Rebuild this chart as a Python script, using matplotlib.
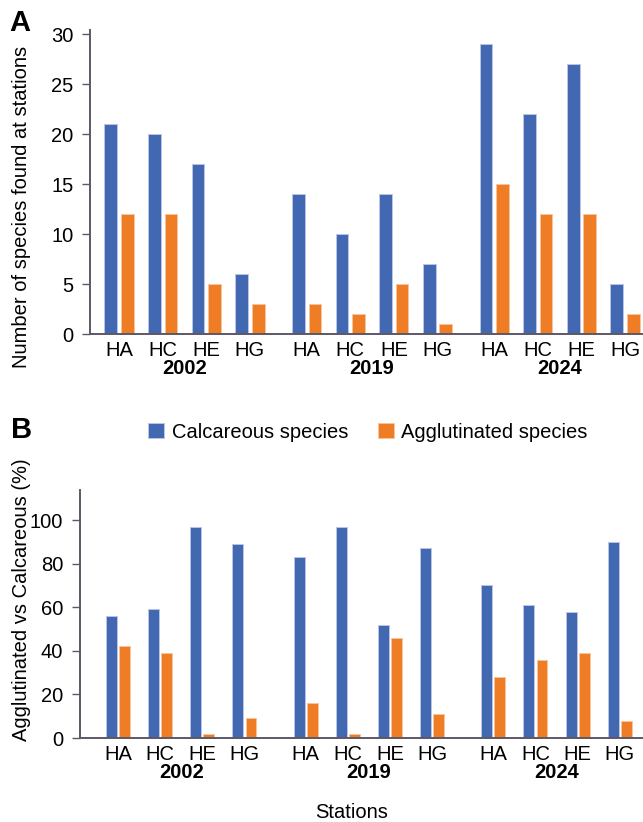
import numpy as np
import matplotlib
matplotlib.use('Agg')
import matplotlib.pyplot as plt
from matplotlib.transforms import blended_transform_factory

plt.rcParams['font.family'] = ['Liberation Sans', 'DejaVu Sans']
plt.rcParams['font.size'] = 14.5

stations = ['HA', 'HC', 'HE', 'HG']
years = ['2002', '2019', '2024']

# Panel A: number of species per station
calc_count = [21, 20, 17, 6, 14, 10, 14, 7, 29, 22, 27, 5]
aggl_count = [12, 12, 5, 3, 3, 2, 5, 1, 15, 12, 12, 2]

# Panel B: percentages
calc_pct = [56, 59, 97, 89, 83, 97, 52, 87, 70, 61, 58, 90]
aggl_pct = [42, 39, 2, 9, 16, 2, 46, 11, 28, 36, 39, 8]

blue = '#4268b2'
orange = '#ee7d26'
spine_col = '#5c5866'

W, H = 643, 822
fig = plt.figure(figsize=(W / 100, H / 100), dpi=100)


def px_rect(left, top, right, bottom):
    return [left / W, 1 - bottom / H, (right - left) / W, (bottom - top) / H]


def draw_panel(ax, calc, aggl, group_off, width, off, xlim, ylim, yticks):
    centers = np.array([g * group_off + i for g in range(len(years)) for i in range(len(stations))])
    ax.bar(centers - off, calc, width=width, color=blue, edgecolor='#b9c4e6', linewidth=0.7,
           label='Calcareous species')
    ax.bar(centers + off, aggl, width=width, color=orange, edgecolor='#f6c49c', linewidth=0.7,
           label='Agglutinated species')
    ax.set_xlim(*xlim)
    ax.set_ylim(*ylim)
    ax.set_yticks(yticks)
    ax.set_xticks(centers, stations * len(years))
    ax.tick_params(axis='x', length=0, pad=5)
    ax.tick_params(axis='y', length=6, width=1, color=spine_col, pad=6)
    for s in ['top', 'right']:
        ax.spines[s].set_visible(False)
    for s in ['left', 'bottom']:
        ax.spines[s].set_color(spine_col)
        ax.spines[s].set_linewidth(1.4)
    trans = blended_transform_factory(ax.transData, ax.transAxes)
    for g, yr in enumerate(years):
        gc = centers[g * 4:(g + 1) * 4].mean()
        ax.annotate(yr, xy=(gc, 0), xycoords=trans, xytext=(0, -25),
                    textcoords='offset points', ha='center', va='center',
                    fontweight='bold')


axA = fig.add_axes(px_rect(90, 30, 643, 334))
draw_panel(axA, calc_count, aggl_count, 4.3, 0.29, 0.19, (-0.665, 12.01), (0, 30.4),
           [0, 5, 10, 15, 20, 25, 30])

axB = fig.add_axes(px_rect(80, 490, 643, 738))
draw_panel(axB, calc_pct, aggl_pct, 4.45, 0.26, 0.155, (-0.9, 12.45), (0, 113.8),
           [0, 20, 40, 60, 80, 100])

fig.text(22 / W, 1 - 207 / H, 'Number of species found at stations', rotation=90,
         ha='center', va='center')
fig.text(22 / W, 1 - 600 / H, 'Agglutinated vs Calcareous (%)', rotation=90,
         ha='center', va='center')
fig.text(352 / W, 1 - 812 / H, 'Stations', ha='center', va='center')

fig.text(20 / W, 1 - 23 / H, 'A', ha='center', va='center', fontsize=21, fontweight='bold')
fig.text(22 / W, 1 - 430 / H, 'B', ha='center', va='center', fontsize=21, fontweight='bold')

handles, labels = axB.get_legend_handles_labels()
fig.legend(handles, labels, loc='center', bbox_to_anchor=(368 / W, 1 - 432 / H), ncol=2,
           frameon=False, handlelength=0.8, handleheight=0.8,
           handletextpad=0.35, columnspacing=1.5)

fig.savefig('out.png', dpi=100)
